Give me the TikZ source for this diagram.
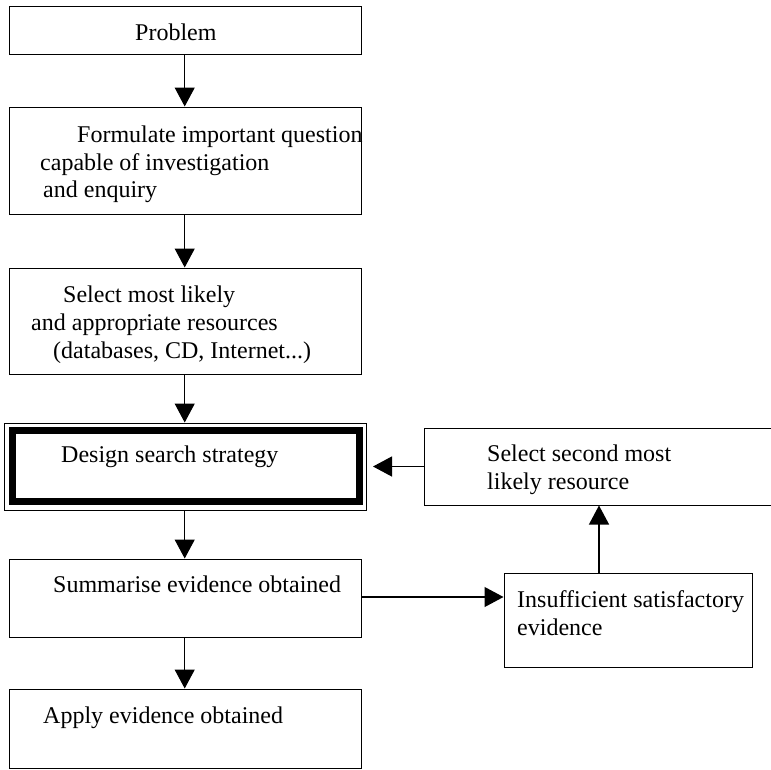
\documentclass[tikz,border=0pt]{standalone}
\usepackage{fontspec}
\setmainfont{Liberation Serif}
\usetikzlibrary{arrows.meta,fit}
\tikzset{
  box/.style={draw, line width=1pt, inner sep=0pt, fit={#1}},
  txt/.style={anchor=base west, inner sep=0pt, font=\fontsize{24}{28}\selectfont},
  arr/.style={line width=1.2pt, -{Triangle[width=20pt,length=19pt]}}
}
\begin{document}
\begin{tikzpicture}[x=1pt,y=-1pt]
\useasboundingbox (0,0) rectangle (771,769);
% boxes
\node[box={(9.5,6) (361,54)}] (b1) {};
\node[box={(9.5,107) (361,214)}] (b2) {};
\node[box={(9.5,268) (361,374)}] (b3) {};
\node[box={(4.5,423) (366.5,510)}] (b4) {};
\node[draw, line width=7pt, inner sep=0pt, fit={(12,430.5) (359,501.5)}] (b4in) {};
\node[box={(9.5,559) (361,637)}] (b5) {};
\node[box={(9.5,689) (361,768)}] (b6) {};
\node[box={(424,428) (790,505)}] (b7) {};
\node[box={(504,573) (752,667)}] (b8) {};
% texts
\node[txt] (t1) at (135,40) {Problem};
\node[txt] (t2a) at (77,142) {Formulate important question};
\node[txt] (t2b) at (40,170) {capable of investigation};
\node[txt] (t2c) at (43,197) {and enquiry};
\node[txt] (t3a) at (63,302) {Select most likely};
\node[txt] (t3b) at (31,330) {and appropriate resources};
\node[txt] (t3c) at (53,358) {(databases, CD, Internet...)};
\node[txt] (t4) at (61,462) {Design search strategy};
\node[txt] (t5) at (53,592) {Summarise evidence obtained};
\node[txt] (t6) at (43,723) {Apply evidence obtained};
\node[txt] (t7a) at (487,461) {Select second most};
\node[txt] (t7b) at (487,489) {likely resource};
\node[txt] (t8a) at (517,607) {Insufficient satisfactory};
\node[txt] (t8b) at (517,635) {evidence};
% connectors
\coordinate (ax) at (184.7,0);
\draw[arr] (b1.south -| ax) -- (b2.north -| ax);
\draw[arr] (b2.south -| ax) -- (b3.north -| ax);
\draw[arr] (b3.south -| ax) -- (b4.north -| ax);
\draw[arr] (b4.south -| ax) -- (b5.north -| ax);
\draw[arr] (b5.south -| ax) -- (b6.north -| ax);
\draw[arr, shorten >=6pt] (b7.west) -- (b7.west -| b4.east);
\coordinate (r5) at (361,597);
\draw[arr] (r5) -- (r5 -| b8.west);
\coordinate (u8) at (599,573);
\draw[arr] (u8) -- (u8 |- b7.south);
\end{tikzpicture}
\end{document}
